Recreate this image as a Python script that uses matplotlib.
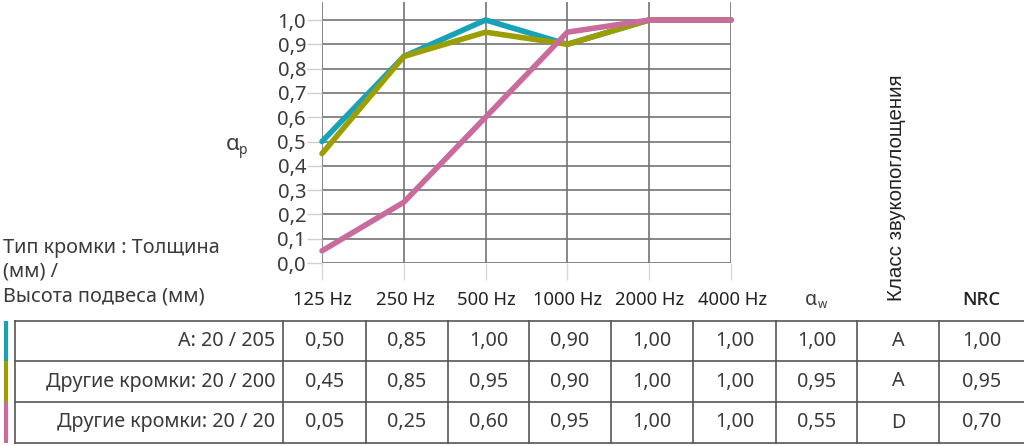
import matplotlib
matplotlib.use("Agg")
import matplotlib.pyplot as plt

freqs = ["125 Hz", "250 Hz", "500 Hz", "1000 Hz", "2000 Hz", "4000 Hz"]
row_labels = ["A: 20 / 205", "Другие кромки: 20 / 200", "Другие кромки: 20 / 20"]
alpha_p = [
    [0.50, 0.85, 1.00, 0.90, 1.00, 1.00],
    [0.45, 0.85, 0.95, 0.90, 1.00, 1.00],
    [0.05, 0.25, 0.60, 0.95, 1.00, 1.00],
]
alpha_w = ["1,00", "0,95", "0,55"]
sound_class = ["A", "A", "D"]
nrc = ["1,00", "0,95", "0,70"]
colors = ["#17a2b8", "#9c9e00", "#c96b9c"]

W, H = 1024, 446
txt = "#3a3a3a"
grid_c = "#737373"
plt.rcParams['font.family'] = ['Noto Sans', 'DejaVu Sans']

fig = plt.figure(figsize=(W / 100, H / 100), dpi=100)

# overlay in pixel coordinates
ov = fig.add_axes([0, 0, 1, 1])
ov.set_xlim(0, W)
ov.set_ylim(H, 0)
ov.axis("off")

# line chart
x0, x1, ytop, y0px = 322, 731, 2, 263
ax = fig.add_axes([x0 / W, 1 - y0px / H, (x1 - x0) / W, (y0px - ytop) / H])
ax.set_xlim(0, len(freqs) - 1)
ax.set_ylim(0, (y0px - ytop) / 243)
for s in ax.spines.values():
    s.set_visible(False)
ax.set_yticks([i / 10 for i in range(11)])
ax.set_yticklabels([f"{i / 10:.1f}".replace(".", ",") for i in range(11)],
                   fontsize=14.5, color=txt)
ax.set_xticks(range(len(freqs)))
ax.set_xticklabels([])
ax.tick_params(axis="y", length=11, width=1, color="#d0d0d0", pad=0.5)
ax.tick_params(axis="x", length=12, width=1, color="#d8d8d8")
ax.patch.set_alpha(0)
for yv in ax.get_yticks():
    ax.axhline(yv, color=grid_c, lw=1.2, zorder=1)
for i in range(len(freqs)):
    ax.axvline(i, color=grid_c, lw=1.2, zorder=1)
for vals, c in zip(alpha_p, colors):
    ax.plot(range(len(freqs)), vals, color=c, lw=4, clip_on=False,
            solid_capstyle="round", solid_joinstyle="miter", zorder=3)

ov.text(226, 145, "α", fontsize=16, color=txt, ha="left", va="center")
ov.text(239, 150, "p", fontsize=10, color=txt, ha="left", va="center")

# header
ov.text(3, 272, "Тип кромки : Толщина\n(мм) /\nВысота подвеса (мм)",
        fontsize=14.3, color=txt, ha="left", va="center", linespacing=1.3)

cols = [15, 283, 366, 448, 529, 611, 693, 776, 857, 939, 1024]
centers = [(cols[i] + cols[i + 1]) / 2 for i in range(1, len(cols) - 1)]
for cx, f in zip(centers[:6], freqs):
    ov.text(cx - 2, 300, f, fontsize=13.3, color="#222", ha="center", va="center")
ov.text(centers[6] - 6, 300, "α", fontsize=14, color=txt, ha="center", va="center")
ov.text(centers[6] + 6, 304, "w", fontsize=8.5, color=txt, ha="center", va="center")
ov.text(centers[7] - 2, 301, "Класс звукопоглощения", fontsize=14.8,
        family="Liberation Sans", color="#222", rotation=90, ha="center", va="bottom")
ov.text(centers[8], 300, "NRC", fontsize=13.3, color="#222", fontweight="semibold",
        family="Open Sans", ha="center", va="center")

# table
rows = [321, 361, 402, 443]
line_c = "#555555"
for y in rows:
    ov.plot([cols[0], cols[-1]], [y, y], color=line_c, lw=1.2)
for x in cols[:-1]:
    ov.plot([x, x], [rows[0], rows[-1]], color=line_c, lw=1.2)
for r in range(3):
    ov.plot([5.5, 5.5], [rows[r], rows[r + 1]], color=colors[r], lw=3,
            solid_capstyle="butt")
    cy = (rows[r] + rows[r + 1]) / 2
    ov.text(275, cy, row_labels[r], fontsize=14.2, color=txt, ha="right", va="center")
    cells = [f"{v:.2f}".replace(".", ",") for v in alpha_p[r]]
    cells += [alpha_w[r], sound_class[r], nrc[r]]
    for cx, c in zip(centers, cells):
        ov.text(cx, cy, c, fontsize=14.2, color=txt, ha="center", va="center")

fig.savefig("out.png", dpi=100)
